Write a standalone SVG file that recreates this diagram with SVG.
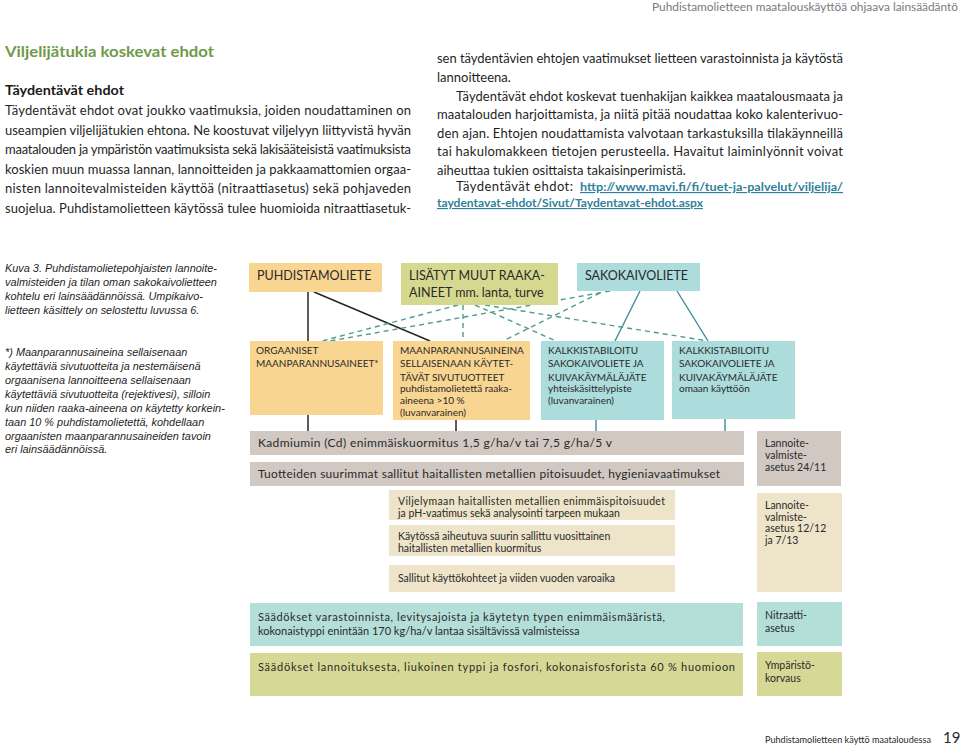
<svg xmlns="http://www.w3.org/2000/svg" width="960" height="746" viewBox="0 0 960 746">
<style>
.hdr{font-family:Lato,"Open Sans",sans-serif;font-size:11px;fill:#7a7a7a}
.h1{font-family:Lato,"Open Sans",sans-serif;font-size:15px;font-weight:bold;fill:#6f9a48}
.h2{font-family:Lato,"Open Sans",sans-serif;font-size:14px;font-weight:bold;fill:#1a1a1a}
.body{font-family:Lato,"Open Sans",sans-serif;font-size:13px;fill:#1f1f1f}
.link{font-family:Lato,"Open Sans",sans-serif;font-size:11.5px;font-weight:bold;fill:#2f7f9c;text-decoration:underline}
.cap{font-family:"Liberation Sans",Arial,sans-serif;font-size:10.9px;font-style:italic;fill:#1f1f1f}
.big{font-family:Lato,"Open Sans",sans-serif;font-size:12.5px;fill:#2a2a2a}
.cap2{font-family:Lato,"Open Sans",sans-serif;font-size:10px;fill:#2a2a2a}
.sm{font-family:Lato,"Open Sans",sans-serif;font-size:10px;fill:#2a2a2a}
.t12{font-family:Lato,"Open Sans",sans-serif;font-size:12px;fill:#2a2a2a}
.t11{font-family:Lato,"Open Sans",sans-serif;font-size:11px;fill:#2a2a2a}
.t105{font-family:Lato,"Open Sans",sans-serif;font-size:10.5px;fill:#2a2a2a}
.foot{font-family:Lato,"Open Sans",sans-serif;font-size:9.2px;fill:#2a2a2a}
.pg{font-family:Lato,"Open Sans",sans-serif;font-size:15px;fill:#2a2a2a}
.or{fill:#f9d592}.ol{fill:#d5d98f}.tl{fill:#acdcdc}.gr{fill:#d1c8c2}.be{fill:#eee4c9}.tl2{fill:#b4dfd9}.ol2{fill:#d6d995}
.sk{stroke:#262626;stroke-width:1.5;fill:none}
.st{stroke:#3e8b99;stroke-width:1.4;fill:none}
.sd{stroke:#4d9c8e;stroke-width:1.4;stroke-dasharray:5 4;fill:none}
</style>
<rect width="960" height="746" fill="#ffffff"/>

<text class="hdr" x="652" y="11" textLength="306" lengthAdjust="spacingAndGlyphs">Puhdistamolietteen maatalouskäyttöä ohjaava lainsäädäntö</text>

<text class="h1" x="5" y="57" textLength="209" lengthAdjust="spacingAndGlyphs">Viljelijätukia koskevat ehdot</text>
<text class="h2" x="5" y="95" textLength="119" lengthAdjust="spacingAndGlyphs">Täydentävät ehdot</text>
<g class="body">
<text x="5" y="115" textLength="406" lengthAdjust="spacing">Täydentävät ehdot ovat joukko vaatimuksia, joiden noudattaminen on</text>
<text x="5" y="135" textLength="406" lengthAdjust="spacing">useampien viljelijätukien ehtona. Ne koostuvat viljelyyn liittyvistä hyvän</text>
<text x="5" y="154" textLength="406" lengthAdjust="spacing">maatalouden ja ympäristön vaatimuksista sekä lakisääteisistä vaatimuksista</text>
<text x="5" y="174" textLength="406" lengthAdjust="spacing">koskien muun muassa lannan, lannoitteiden ja pakkaamattomien orgaa-</text>
<text x="5" y="193" textLength="406" lengthAdjust="spacing">nisten lannoitevalmisteiden käyttöä (nitraattiasetus) sekä pohjaveden</text>
<text x="5" y="213" textLength="406" lengthAdjust="spacing">suojelua. Puhdistamolietteen käytössä tulee huomioida nitraattiasetuk-</text>
<text x="437" y="63" textLength="406" lengthAdjust="spacing">sen täydentävien ehtojen vaatimukset lietteen varastoinnista ja käytöstä</text>
<text x="437" y="82">lannoitteena.</text>
<text x="456" y="101" textLength="387" lengthAdjust="spacing">Täydentävät ehdot koskevat tuenhakijan kaikkea maatalousmaata ja</text>
<text x="437" y="119" textLength="406" lengthAdjust="spacing">maatalouden harjoittamista, ja niitä pitää noudattaa koko kalenterivuo-</text>
<text x="437" y="138" textLength="406" lengthAdjust="spacing">den ajan. Ehtojen noudattamista valvotaan tarkastuksilla tilakäynneillä</text>
<text x="437" y="156" textLength="406" lengthAdjust="spacing">tai hakulomakkeen tietojen perusteella. Havaitut laiminlyönnit voivat</text>
<text x="437" y="175">aiheuttaa tukien osittaista takaisinperimistä.</text>
<text x="456" y="191" textLength="117" lengthAdjust="spacing">Täydentävät ehdot:</text>
</g>
<text class="link" x="580" y="191" textLength="263" lengthAdjust="spacingAndGlyphs">http://www.mavi.fi/fi/tuet-ja-palvelut/viljelija/</text>
<text class="link" x="437" y="207" textLength="266" lengthAdjust="spacingAndGlyphs">taydentavat-ehdot/Sivut/Taydentavat-ehdot.aspx</text>

<g class="cap">
<text x="5" y="272">Kuva 3. Puhdistamolietepohjaisten lannoite-</text>
<text x="5" y="286">valmisteiden ja tilan oman sakokaivolietteen</text>
<text x="5" y="300">kohtelu eri lainsäädännöissä. Umpikaivo-</text>
<text x="5" y="314">lietteen käsittely on selostettu luvussa 6.</text>
<text x="5" y="356">*) Maanparannusaineina sellaisenaan</text>
<text x="5" y="370">käytettäviä sivutuotteita ja nestemäisenä</text>
<text x="5" y="384">orgaanisena lannoitteena sellaisenaan</text>
<text x="5" y="398">käytettäviä sivutuotteita (rejektivesi), silloin</text>
<text x="5" y="412">kun niiden raaka-aineena on käytetty korkein-</text>
<text x="5" y="426">taan 10 % puhdistamolietettä, kohdellaan</text>
<text x="5" y="440">orgaanisten maanparannusaineiden tavoin</text>
<text x="5" y="453">eri lainsäädännöissä.</text>
</g>

<g id="connectors">
<line class="sk" x1="308" y1="292" x2="308" y2="341"/>
<line class="sk" x1="314" y1="292" x2="430" y2="341"/>
<line class="st" x1="640" y1="291" x2="615" y2="341"/>
<line class="st" x1="677" y1="291" x2="708" y2="341"/>
<line class="sd" x1="458" y1="305" x2="322" y2="341"/>
<line class="sd" x1="463" y1="305" x2="463" y2="341"/>
<line class="sd" x1="475" y1="305" x2="556" y2="341"/>
<line class="sd" x1="485" y1="305" x2="708" y2="341"/>
<line class="sd" x1="610" y1="291" x2="330" y2="341"/>
<line class="sd" x1="600" y1="293" x2="503" y2="341"/>
<line class="sk" x1="308" y1="415" x2="308" y2="431"/>
<line class="sk" x1="456" y1="420" x2="456" y2="431"/>
<line class="st" x1="596" y1="420" x2="596" y2="431"/>
<line class="st" x1="725" y1="419" x2="725" y2="431"/>
</g>

<g id="puhdistamoliete"><rect class="or" x="249" y="263" width="133" height="29"/><text class="big" x="257" y="280">PUHDISTAMOLIETE</text></g>
<g id="lisatyt"><rect class="ol" x="401" y="263" width="157" height="42"/><text class="big" x="409" y="280">LISÄTYT MUUT RAAKA-</text><text class="big" x="409" y="297">AINEET mm. lanta, turve</text></g>
<g id="sakokaivoliete"><rect class="tl" x="577" y="263" width="123" height="28"/><text class="big" x="585" y="280">SAKOKAIVOLIETE</text></g>

<g id="orgaaniset"><rect class="or" x="250" y="341" width="133" height="74"/>
<text class="cap2" x="256" y="354">ORGAANISET</text><text class="cap2" x="256" y="367">MAANPARANNUSAINEET*</text></g>
<g id="sivutuotteet"><rect class="or" x="393" y="341" width="137" height="79"/>
<text class="cap2" x="400" y="354">MAANPARANNUSAINEINA</text><text class="cap2" x="400" y="367">SELLAISENAAN KÄYTET-</text><text class="cap2" x="400" y="381">TÄVÄT SIVUTUOTTEET</text>
<text class="sm" x="400" y="392">puhdistamolietettä raaka-</text><text class="sm" x="400" y="404">aineena &gt;10 %</text><text class="sm" x="400" y="416">(luvanvarainen)</text></g>
<g id="kalkki-yhteis"><rect class="tl" x="541" y="341" width="123" height="79"/>
<text class="cap2" x="548" y="354">KALKKISTABILOITU</text><text class="cap2" x="548" y="367">SAKOKAIVOLIETE JA</text><text class="cap2" x="548" y="381">KUIVAKÄYMÄLÄJÄTE</text>
<text class="sm" x="548" y="392">yhteiskäsittelypiste</text><text class="sm" x="548" y="404">(luvanvarainen)</text></g>
<g id="kalkki-oma"><rect class="tl" x="672" y="341" width="123" height="78"/>
<text class="cap2" x="679" y="354">KALKKISTABILOITU</text><text class="cap2" x="679" y="367">SAKOKAIVOLIETE JA</text><text class="cap2" x="679" y="381">KUIVAKÄYMÄLÄJÄTE</text>
<text class="sm" x="679" y="392">omaan käyttöön</text></g>

<g id="kadmium"><rect class="gr" x="250" y="431" width="494" height="24"/><text class="t12" x="258" y="447" textLength="354" lengthAdjust="spacing">Kadmiumin (Cd) enimmäiskuormitus 1,5 g/ha/v tai 7,5 g/ha/5 v</text></g>
<g id="tuotteiden"><rect class="gr" x="250" y="462" width="494" height="24"/><text class="t12" x="258" y="478" textLength="462" lengthAdjust="spacing">Tuotteiden suurimmat sallitut haitallisten metallien pitoisuudet, hygieniavaatimukset</text></g>
<g id="asetus2411"><rect class="gr" x="757" y="431" width="84" height="55"/><text class="t105" x="765" y="447">Lannoite-</text><text class="t105" x="765" y="459">valmiste-</text><text class="t105" x="765" y="471">asetus 24/11</text></g>

<g id="viljelymaan"><rect class="be" x="389" y="490" width="286" height="30"/><text class="t105" x="398" y="505" textLength="267" lengthAdjust="spacing">Viljelymaan haitallisten metallien enimmäispitoisuudet</text><text class="t105" x="398" y="517">ja pH-vaatimus sekä analysointi tarpeen mukaan</text></g>
<g id="kaytossa"><rect class="be" x="389" y="525" width="286" height="31"/><text class="t105" x="398" y="540">Käytössä aiheutuva suurin sallittu vuosittainen</text><text class="t105" x="398" y="552">haitallisten metallien kuormitus</text></g>
<g id="sallitut"><rect class="be" x="389" y="565" width="286" height="27"/><text class="t105" x="398" y="582">Sallitut käyttökohteet ja viiden vuoden varoaika</text></g>
<g id="asetus1212"><rect class="be" x="757" y="493" width="85" height="99"/><text class="t105" x="765" y="509">Lannoite-</text><text class="t105" x="765" y="521">valmiste-</text><text class="t105" x="765" y="532">asetus 12/12</text><text class="t105" x="765" y="544">ja 7/13</text></g>

<g id="varastointi"><rect class="tl2" x="250" y="603" width="493" height="43"/><text class="t11" x="258" y="621" textLength="407" lengthAdjust="spacing">Säädökset varastoinnista, levitysajoista ja käytetyn typen enimmäismääristä,</text><text class="t11" x="258" y="635">kokonaistyppi enintään 170 kg/ha/v lantaa sisältävissä valmisteissa</text></g>
<g id="nitraatti"><rect class="tl2" x="757" y="602" width="85" height="44"/><text class="t105" x="765" y="619">Nitraatti-</text><text class="t105" x="765" y="632">asetus</text></g>
<g id="lannoitus"><rect class="ol2" x="250" y="653" width="493" height="43"/><text class="t11" x="258" y="671" textLength="477" lengthAdjust="spacing">Säädökset lannoituksesta, liukoinen typpi ja fosfori, kokonaisfosforista 60 % huomioon</text></g>
<g id="ymparisto"><rect class="ol2" x="757" y="652" width="85" height="44"/><text class="t105" x="765" y="669">Ympäristö-</text><text class="t105" x="765" y="682">korvaus</text></g>

<text class="foot" x="765" y="743" textLength="166" lengthAdjust="spacingAndGlyphs">Puhdistamolietteen käyttö maataloudessa</text>
<text class="pg" x="943" y="743">19</text>
</svg>
